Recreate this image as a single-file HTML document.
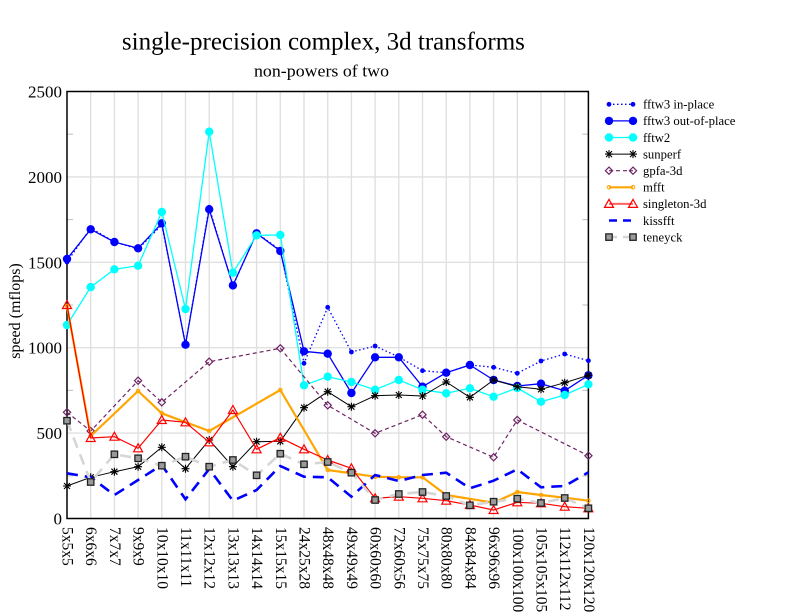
<!DOCTYPE html>
<html>
<head>
<meta charset="utf-8">
<style>
  html,body{margin:0;padding:0;background:#fff;}
  svg{display:block;}
  text{font-family:"Liberation Serif","Times New Roman",serif;fill:#000;}
</style>
</head>
<body>
<svg width="792" height="612" viewBox="0 0 792 612" xmlns="http://www.w3.org/2000/svg">
  <defs>
    <marker id="mDotS" markerUnits="userSpaceOnUse" markerWidth="10" markerHeight="10" refX="0" refY="0" style="overflow:visible"><circle cx="0" cy="0" r="2.4" fill="#0000ff"/></marker>
    <marker id="mDotL" markerUnits="userSpaceOnUse" markerWidth="10" markerHeight="10" refX="0" refY="0" style="overflow:visible"><circle cx="0" cy="0" r="4.2" fill="#0000ff"/></marker>
    <marker id="mDotC" markerUnits="userSpaceOnUse" markerWidth="10" markerHeight="10" refX="0" refY="0" style="overflow:visible"><circle cx="0" cy="0" r="4.2" fill="#00ffff"/></marker>
    <marker id="mStar" markerUnits="userSpaceOnUse" markerWidth="10" markerHeight="10" refX="0" refY="0" style="overflow:visible"><path d="M-4,0H4M0,-4V4M-3,-3L3,3M-3,3L3,-3" stroke="#000" stroke-width="1.1" fill="none"/></marker>
    <marker id="mDiam" markerUnits="userSpaceOnUse" markerWidth="10" markerHeight="10" refX="0" refY="0" style="overflow:visible"><path d="M0,-3.6L3.6,0L0,3.6L-3.6,0Z" stroke="#6e2464" stroke-width="1.2" fill="none"/></marker>
    <marker id="mOC" markerUnits="userSpaceOnUse" markerWidth="10" markerHeight="10" refX="0" refY="0" style="overflow:visible"><circle cx="0" cy="0" r="1.8" stroke="#ffa500" stroke-width="1" fill="none"/></marker>
    <marker id="mTri" markerUnits="userSpaceOnUse" markerWidth="10" markerHeight="10" refX="0" refY="0" style="overflow:visible"><path d="M0,-4.5L4.5,3.5L-4.5,3.5Z" stroke="#ff0000" stroke-width="1.2" fill="none"/></marker>
    <marker id="mSq" markerUnits="userSpaceOnUse" markerWidth="10" markerHeight="10" refX="0" refY="0" style="overflow:visible"><rect x="-3.2" y="-3.2" width="6.4" height="6.4" stroke="#222" stroke-width="1.3" fill="#9a9a9a"/></marker>
  </defs>

  <!-- title -->
  <text x="323.4" y="49.3" font-size="25" text-anchor="middle" textLength="403" lengthAdjust="spacingAndGlyphs">single-precision complex, 3d transforms</text>
  <text x="321.5" y="76.5" font-size="17" text-anchor="middle" textLength="135" lengthAdjust="spacingAndGlyphs">non-powers of two</text>

  <!-- grid -->
  <g stroke="#e0e0e0" stroke-width="1.4">
    <line x1="67" y1="433.1" x2="588.4" y2="433.1"/>
    <line x1="67" y1="347.7" x2="588.4" y2="347.7"/>
    <line x1="67" y1="262.3" x2="588.4" y2="262.3"/>
    <line x1="67" y1="176.9" x2="588.4" y2="176.9"/>
    <line x1="90.7" y1="91.5" x2="90.7" y2="518.5"/>
    <line x1="114.4" y1="91.5" x2="114.4" y2="518.5"/>
    <line x1="138.1" y1="91.5" x2="138.1" y2="518.5"/>
    <line x1="161.8" y1="91.5" x2="161.8" y2="518.5"/>
    <line x1="185.5" y1="91.5" x2="185.5" y2="518.5"/>
    <line x1="209.2" y1="91.5" x2="209.2" y2="518.5"/>
    <line x1="232.9" y1="91.5" x2="232.9" y2="518.5"/>
    <line x1="256.6" y1="91.5" x2="256.6" y2="518.5"/>
    <line x1="280.3" y1="91.5" x2="280.3" y2="518.5"/>
    <line x1="304" y1="91.5" x2="304" y2="518.5"/>
    <line x1="327.7" y1="91.5" x2="327.7" y2="518.5"/>
    <line x1="351.4" y1="91.5" x2="351.4" y2="518.5"/>
    <line x1="375.1" y1="91.5" x2="375.1" y2="518.5"/>
    <line x1="398.8" y1="91.5" x2="398.8" y2="518.5"/>
    <line x1="422.5" y1="91.5" x2="422.5" y2="518.5"/>
    <line x1="446.2" y1="91.5" x2="446.2" y2="518.5"/>
    <line x1="469.9" y1="91.5" x2="469.9" y2="518.5"/>
    <line x1="493.6" y1="91.5" x2="493.6" y2="518.5"/>
    <line x1="517.3" y1="91.5" x2="517.3" y2="518.5"/>
    <line x1="541" y1="91.5" x2="541" y2="518.5"/>
    <line x1="564.7" y1="91.5" x2="564.7" y2="518.5"/>
  </g>
  <!-- minor ticks -->
  <g stroke="#c8c8c8" stroke-width="1.2">
    <line x1="67" y1="475.8" x2="73" y2="475.8"/><line x1="582.4" y1="475.8" x2="588.4" y2="475.8"/>
    <line x1="67" y1="390.4" x2="73" y2="390.4"/><line x1="582.4" y1="390.4" x2="588.4" y2="390.4"/>
    <line x1="67" y1="305" x2="73" y2="305"/><line x1="582.4" y1="305" x2="588.4" y2="305"/>
    <line x1="67" y1="219.6" x2="73" y2="219.6"/><line x1="582.4" y1="219.6" x2="588.4" y2="219.6"/>
    <line x1="67" y1="134.2" x2="73" y2="134.2"/><line x1="582.4" y1="134.2" x2="588.4" y2="134.2"/>
  </g>

  <!-- frame -->
  <rect x="67" y="91.5" width="521.4" height="427" fill="none" stroke="#000" stroke-width="1.5"/>

  <!-- y tick labels -->
  <g font-size="17" text-anchor="end">
    <text x="62" y="524.5">0</text>
    <text x="62" y="439.1">500</text>
    <text x="62" y="353.7">1000</text>
    <text x="62" y="268.3">1500</text>
    <text x="62" y="182.9">2000</text>
    <text x="62" y="97.5">2500</text>
  </g>
  <text transform="translate(20,311) rotate(-90)" font-size="16" text-anchor="middle">speed (mflops)</text>

  <!-- x tick labels -->
  <g font-size="15.5" dominant-baseline="central">
    <text transform="translate(67,527) rotate(90)">5x5x5</text>
    <text transform="translate(90.7,527) rotate(90)">6x6x6</text>
    <text transform="translate(114.4,527) rotate(90)">7x7x7</text>
    <text transform="translate(138.1,527) rotate(90)">9x9x9</text>
    <text transform="translate(161.8,527) rotate(90)">10x10x10</text>
    <text transform="translate(185.5,527) rotate(90)">11x11x11</text>
    <text transform="translate(209.2,527) rotate(90)">12x12x12</text>
    <text transform="translate(232.9,527) rotate(90)">13x13x13</text>
    <text transform="translate(256.6,527) rotate(90)">14x14x14</text>
    <text transform="translate(280.3,527) rotate(90)">15x15x15</text>
    <text transform="translate(304,527) rotate(90)">24x25x28</text>
    <text transform="translate(327.7,527) rotate(90)">48x48x48</text>
    <text transform="translate(351.4,527) rotate(90)">49x49x49</text>
    <text transform="translate(375.1,527) rotate(90)">60x60x60</text>
    <text transform="translate(398.8,527) rotate(90)">72x60x56</text>
    <text transform="translate(422.5,527) rotate(90)">75x75x75</text>
    <text transform="translate(446.2,527) rotate(90)">80x80x80</text>
    <text transform="translate(469.9,527) rotate(90)">84x84x84</text>
    <text transform="translate(493.6,527) rotate(90)">96x96x96</text>
    <text transform="translate(517.3,527) rotate(90)">100x100x100</text>
    <text transform="translate(541,527) rotate(90)">105x105x105</text>
    <text transform="translate(564.7,527) rotate(90)">112x112x112</text>
    <text transform="translate(588.4,527) rotate(90)">120x120x120</text>
  </g>

  <!-- series -->
  <g fill="none" stroke-linejoin="round">
    <!-- fftw3 in-place -->
    <polyline stroke="#0000ff" stroke-width="1.3" stroke-dasharray="1.5 2.5" marker-start="url(#mDotS)" marker-mid="url(#mDotS)" marker-end="url(#mDotS)"
      points="67,262 90.7,228 114.4,242 138.1,249 161.8,225 185.5,344 209.2,207.3 232.9,286 256.6,233 280.3,250 304,363.3 327.7,307.3 351.4,352 375.1,346 398.8,357 422.5,370.7 446.2,372.7 469.9,365 493.6,367.3 517.3,373.3 541,361 564.7,354 588.4,360.7"/>
    <!-- fftw3 out-of-place -->
    <polyline stroke="#0000ff" stroke-width="1.3" marker-start="url(#mDotL)" marker-mid="url(#mDotL)" marker-end="url(#mDotL)"
      points="67,259 90.7,229.3 114.4,242 138.1,248.3 161.8,223.3 185.5,344.7 209.2,209.3 232.9,285.4 256.6,233.3 280.3,251 304,351.3 327.7,353.7 351.4,393 375.1,357.3 398.8,357.3 422.5,386.7 446.2,372.7 469.9,365 493.6,380 517.3,386 541,383.7 564.7,390.7 588.4,375.3"/>
    <!-- fftw2 -->
    <polyline stroke="#00ffff" stroke-width="1.3" marker-start="url(#mDotC)" marker-mid="url(#mDotC)" marker-end="url(#mDotC)"
      points="67,325 90.7,287.1 114.4,269.3 138.1,265.7 161.8,212 185.5,309 209.2,131.7 232.9,272.7 256.6,235.3 280.3,235 304,385.3 327.7,376.7 351.4,382 375.1,389.7 398.8,380 422.5,389.7 446.2,393.3 469.9,388.3 493.6,396.7 517.3,388 541,401.7 564.7,395 588.4,384.3"/>
    <!-- sunperf -->
    <polyline stroke="#000" stroke-width="1" marker-start="url(#mStar)" marker-mid="url(#mStar)" marker-end="url(#mStar)"
      points="67,486 90.7,477.3 114.4,471.7 138.1,466.7 161.8,447.3 185.5,468.7 209.2,440 232.9,466.7 256.6,441.7 280.3,441.3 304,407.7 327.7,391.7 351.4,406.7 375.1,395.7 398.8,395 422.5,396 446.2,382 469.9,397.3 493.6,380 517.3,386.7 541,389.3 564.7,382.7 588.4,375.3"/>
    <!-- gpfa-3d -->
    <polyline stroke="#6e2464" stroke-width="1.2" stroke-dasharray="4 3" marker-start="url(#mDiam)" marker-mid="url(#mDiam)" marker-end="url(#mDiam)"
      points="67,412.3 90.7,431 138.1,380.7 161.8,402.3 209.2,361.7 280.3,348.3 327.7,405.3 375.1,433.3 422.5,414.7 446.2,436.7 493.6,457.3 517.3,420 588.4,455.7"/>
    <!-- mfft -->
    <polyline stroke="#ffa500" stroke-width="2.2" marker-start="url(#mOC)" marker-mid="url(#mOC)" marker-end="url(#mOC)"
      points="67,306 90.7,436 138.1,391 161.8,413.3 209.2,431 280.3,390 327.7,470 351.4,473.3 375.1,476.7 398.8,477.3 422.5,477.3 446.2,495 493.6,502.7 517.3,492 541,495 564.7,497.7 588.4,500.7"/>
    <!-- singleton-3d -->
    <polyline stroke="#ff0000" stroke-width="1.2" marker-start="url(#mTri)" marker-mid="url(#mTri)" marker-end="url(#mTri)"
      points="67,305 90.7,438 114.4,436.7 138.1,448.3 161.8,420 185.5,422.3 209.2,442.3 232.9,410 256.6,449.3 280.3,437.7 304,449.3 327.7,460 351.4,468.3 375.1,498.3 398.8,496.7 422.5,498.3 446.2,500.7 469.9,505 493.6,510 517.3,502.3 541,503.3 564.7,506.7 588.4,508.3"/>
    <!-- kissfft -->
    <polyline stroke="#0000ff" stroke-width="2.6" stroke-dasharray="11 7" stroke-linejoin="miter"
      points="67,473.3 90.7,477.3 114.4,495 138.1,480 161.8,465 185.5,499.3 209.2,469 232.9,500.7 256.6,490 280.3,466 304,476.7 327.7,477.3 351.4,496.7 375.1,475 398.8,481 422.5,475 446.2,472.7 469.9,488.3 493.6,480.7 517.3,469.3 541,487.3 564.7,486 588.4,472.3"/>
    <!-- teneyck -->
    <polyline stroke="#d6d6d6" stroke-width="2.6" stroke-dasharray="11 7" marker-start="url(#mSq)" marker-mid="url(#mSq)" marker-end="url(#mSq)"
      points="67,420.7 90.7,482 114.4,454.3 138.1,458.3 161.8,465.7 185.5,456.7 209.2,466.7 232.9,460 256.6,475.3 280.3,453.7 304,464.3 327.7,462 351.4,472.7 375.1,500 398.8,494 422.5,492 446.2,496 469.9,505.3 493.6,501.7 517.3,498.7 541,503 564.7,498 588.4,508.3"/>
  </g>

  <!-- legend -->
  <g fill="none">
    <polyline stroke="#0000ff" stroke-width="1.3" stroke-dasharray="1.5 2.5" marker-start="url(#mDotS)" marker-end="url(#mDotS)" points="609,104.3 633,104.3"/>
    <polyline stroke="#0000ff" stroke-width="1.3" marker-start="url(#mDotL)" marker-end="url(#mDotL)" points="609,120.9 633,120.9"/>
    <polyline stroke="#00ffff" stroke-width="1.3" marker-start="url(#mDotC)" marker-end="url(#mDotC)" points="609,137.5 633,137.5"/>
    <polyline stroke="#000" stroke-width="1" marker-start="url(#mStar)" marker-end="url(#mStar)" points="609,154.1 633,154.1"/>
    <polyline stroke="#6e2464" stroke-width="1.2" stroke-dasharray="4 3" marker-start="url(#mDiam)" marker-end="url(#mDiam)" points="609,170.7 633,170.7"/>
    <polyline stroke="#ffa500" stroke-width="2.2" marker-start="url(#mOC)" marker-end="url(#mOC)" points="609,187.3 633,187.3"/>
    <polyline stroke="#ff6060" stroke-width="2" marker-start="url(#mTri)" marker-end="url(#mTri)" points="609,203.9 633,203.9"/>
    <polyline stroke="#0000ff" stroke-width="2.6" stroke-dasharray="8 6" points="609,220.5 633,220.5"/>
    <polyline stroke="#d6d6d6" stroke-width="2.6" stroke-dasharray="8 6" marker-start="url(#mSq)" marker-end="url(#mSq)" points="609,237.1 633,237.1"/>
  </g>
  <g font-size="12.7">
    <text x="643" y="108.6">fftw3 in-place</text>
    <text x="643" y="125.2">fftw3 out-of-place</text>
    <text x="643" y="141.8">fftw2</text>
    <text x="643" y="158.4">sunperf</text>
    <text x="643" y="175">gpfa-3d</text>
    <text x="643" y="191.6">mfft</text>
    <text x="643" y="208.2">singleton-3d</text>
    <text x="643" y="224.8">kissfft</text>
    <text x="643" y="241.4">teneyck</text>
  </g>
</svg>
</body>
</html>
